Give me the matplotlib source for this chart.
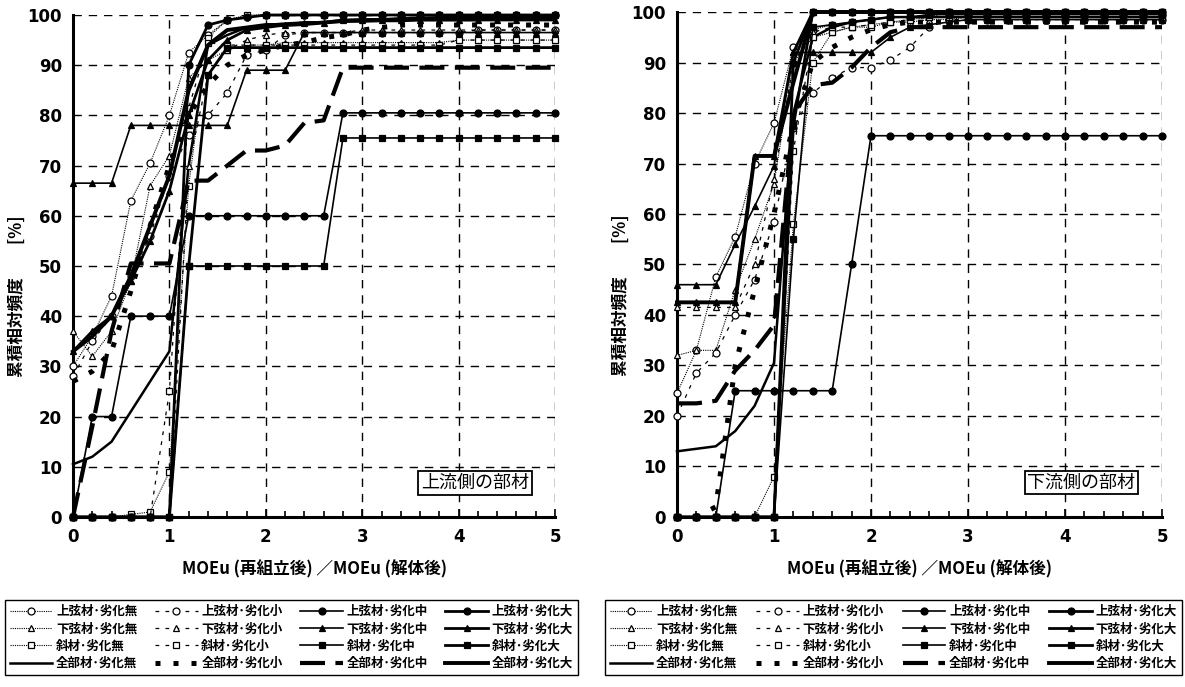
import matplotlib
matplotlib.use("Agg")
import matplotlib.pyplot as plt
from matplotlib.ticker import MultipleLocator

plt.rcParams['font.family'] = ['Noto Sans CJK JP', 'DejaVu Sans']

# x positions (MOEu ratio) shared by every series
x_ratio = [0.0, 0.2, 0.4, 0.6, 0.8, 1.0, 1.2, 1.4, 1.6, 1.8, 2.0, 2.2, 2.4,
           2.6, 2.8, 3.0, 3.2, 3.4, 3.6, 3.8, 4.0, 4.2, 4.4, 4.6, 4.8, 5.0]

members = ['上弦材', '下弦材', '斜材', '全部材']
degrade = ['劣化無', '劣化小', '劣化中', '劣化大']

# ---- upstream members (left panel) ----
us_upper_0 = [30, 36, 44, 63, 70.5, 80, 92.5, 96, 99, 99.5, 100, 100, 100, 100, 100, 100, 100, 100, 100, 100, 100, 100, 100, 100, 100, 100]
us_upper_1 = [28, 35, 40, 48, 56, 68, 76, 80, 84.5, 92, 93, 96, 96.5, 96.5, 96.5, 96.5, 96.5, 96.5, 96.5, 96.5, 96.5, 97, 97, 97, 97, 97]
us_upper_2 = [0, 20, 20, 40, 40, 40, 60, 60, 60, 60, 60, 60, 60, 60, 80.5, 80.5, 80.5, 80.5, 80.5, 80.5, 80.5, 80.5, 80.5, 80.5, 80.5, 80.5]
us_upper_3 = [0, 0, 0, 0, 0, 0, 90, 98, 99, 99.5, 100, 100, 100, 100, 100, 100, 100, 100, 100, 100, 100, 100, 100, 100, 100, 100]
us_lower_0 = [37, 32, 37, 47, 66, 72, 87.5, 91, 93, 94, 94, 94.5, 94.5, 94.5, 94.5, 94.5, 94.5, 94.5, 94.5, 94.5, 95, 95, 95, 95, 95, 95]
us_lower_1 = [0, 0, 0, 0, 0, 0, 70, 88, 93, 95, 96, 96.5, 96.5, 96.5, 96.5, 97, 97, 97, 97, 97, 97, 97, 97, 97, 97, 97]
us_lower_2 = [66.5, 66.5, 66.5, 78, 78, 78, 78, 78, 78, 89, 89, 89, 96.5, 96.5, 96.5, 96.5, 96.5, 96.5, 96.5, 96.5, 96.5, 96.5, 96.5, 96.5, 96.5, 96.5]
us_lower_3 = [33, 37, 40, 47, 55, 65, 80, 91, 95, 97, 97.5, 98, 98.5, 98.5, 99, 99, 99, 99, 99, 99, 99, 99, 99, 99, 99, 99]
us_diag_0 = [0, 0, 0, 0.5, 1, 9, 66, 95.5, 99, 100, 100, 100, 100, 100, 100, 100, 100, 100, 100, 100, 100, 100, 100, 100, 100, 100]
us_diag_1 = [0, 0, 0, 0, 0, 25, 81.5, 94.5, 94, 94, 94, 94, 94, 94, 94, 94, 94, 94, 94, 94, 95, 95, 95, 95, 95, 95]
us_diag_2 = [0, 0, 0, 0, 0, 0, 50, 50, 50, 50, 50, 50, 50, 50, 75.5, 75.5, 75.5, 75.5, 75.5, 75.5, 75.5, 75.5, 75.5, 75.5, 75.5, 75.5]
us_diag_3 = [0, 0, 0, 0, 0, 0, 50, 88, 93.5, 93.5, 93.5, 93.5, 93.5, 93.5, 93.5, 93.5, 93.5, 93.5, 93.5, 93.5, 93.5, 93.5, 93.5, 93.5, 93.5, 93.5]
us_all_0 = [10.5, 12, 15, 21, 27, 33, 70, 94, 96, 97.5, 98, 98.3, 98.5, 98.5, 98.7, 98.7, 98.8, 98.8, 99, 99, 99, 99, 99.2, 99.2, 99.3, 99.3]
us_all_1 = [27, 29, 33, 45, 58, 70, 80, 86, 90, 92, 93, 94, 94.5, 95.5, 96, 97, 97.5, 98, 98, 98, 98, 98, 98, 98, 98, 98]
us_all_2 = [0, 18, 37, 50.5, 50.5, 50.5, 67, 67, 70, 73, 73, 74, 78.5, 79, 89.5, 89.5, 89.5, 89.5, 89.5, 89.5, 89.5, 89.5, 89.5, 89.5, 89.5, 89.5]
us_all_3 = [33, 36, 40, 48, 58, 68, 85, 94, 97, 97.5, 98, 98, 98.2, 98.5, 98.8, 99, 99, 99.2, 99.3, 99.4, 99.5, 99.5, 99.6, 99.6, 99.7, 99.7]

# ---- downstream members (right panel) ----
ds_upper_0 = [24.5, 33, 47.5, 55.5, 70, 78, 93, 96.5, 97.5, 98, 98.5, 99, 99, 99.5, 99.5, 99.5, 99.5, 99.5, 99.5, 99.5, 99.5, 99.5, 99.5, 99.5, 99.5, 99.5]
ds_upper_1 = [20, 28.5, 32.5, 40, 47, 58.5, 77, 84, 87, 89, 89, 90.5, 93, 97, 98.5, 98.5, 98.5, 98.5, 98.5, 98.5, 98.5, 98.5, 98.5, 98.5, 98.5, 98.5]
ds_upper_2 = [0, 0, 0, 25, 25, 25, 25, 25, 25, 50, 75.5, 75.5, 75.5, 75.5, 75.5, 75.5, 75.5, 75.5, 75.5, 75.5, 75.5, 75.5, 75.5, 75.5, 75.5, 75.5]
ds_upper_3 = [0, 0, 0, 0, 0, 0, 90, 100, 100, 100, 100, 100, 100, 100, 100, 100, 100, 100, 100, 100, 100, 100, 100, 100, 100, 100]
ds_lower_0 = [32, 33, 33, 45, 55, 66, 90, 95, 96, 97, 97.5, 98, 98, 98.5, 98.5, 99, 99, 99, 99, 99, 99, 99, 99, 99, 99, 99]
ds_lower_1 = [41.5, 41.5, 41.5, 41.5, 50, 67, 90, 96, 97, 98, 98.5, 99, 99, 99, 99, 99, 99, 99, 99, 99, 99, 99, 99, 99, 99, 99]
ds_lower_2 = [46, 46, 46, 54, 61.5, 69.5, 92, 92, 92, 92, 92, 95, 97, 97.5, 98, 98.5, 98.5, 98.5, 98.5, 98.5, 98.5, 98.5, 98.5, 98.5, 98.5, 98.5]
ds_lower_3 = [42.5, 42.5, 42.5, 42.5, 71.5, 71.5, 92, 100, 100, 100, 100, 100, 100, 100, 100, 100, 100, 100, 100, 100, 100, 100, 100, 100, 100, 100]
ds_diag_0 = [0, 0, 0, 0, 0, 8, 58, 90, 96, 97, 97, 98, 98.5, 99, 100, 100, 100, 100, 100, 100, 100, 100, 100, 100, 100, 100]
ds_diag_1 = [0, 0, 0, 0, 0, 0, 72.5, 95, 97, 97, 97.5, 98, 98.5, 99, 99, 99, 99, 99, 99, 99, 99, 99, 99, 99, 99, 99]
ds_diag_2 = [0, 0, 0, 0, 0, 0, 55, 97, 97.5, 98, 98.5, 99, 99, 99.5, 99.5, 99.5, 99.5, 99.5, 99.5, 99.5, 99.5, 99.5, 99.5, 99.5, 99.5, 99.5]
ds_diag_3 = [0, 0, 0, 0, 0, 0, 77.5, 100, 100, 100, 100, 100, 100, 100, 100, 100, 100, 100, 100, 100, 100, 100, 100, 100, 100, 100]
ds_all_0 = [13, 13.5, 14, 17, 22, 30.5, 80, 95, 97, 98, 98.5, 99, 99, 99, 99, 99, 99, 99, 99, 99, 99, 99, 99, 99, 99, 99]
ds_all_1 = [0, 0, 2, 30, 45, 60, 78, 90, 93, 95, 96.5, 97.5, 98, 98, 98, 98, 98, 98, 98, 98, 98, 98, 98, 98, 98, 98]
ds_all_2 = [22.5, 22.5, 23, 29, 33, 38, 80, 85.5, 86, 89, 93, 96, 97, 97, 97, 97, 97, 97, 97, 97, 97, 97, 97, 97, 97, 97]
ds_all_3 = [42.5, 42.5, 42.5, 42.5, 71.5, 71.5, 86, 100, 100, 100, 100, 100, 100, 100, 100, 100, 100, 100, 100, 100, 100, 100, 100, 100, 100, 100]

upstream = [[us_upper_0, us_upper_1, us_upper_2, us_upper_3],
            [us_lower_0, us_lower_1, us_lower_2, us_lower_3],
            [us_diag_0, us_diag_1, us_diag_2, us_diag_3],
            [us_all_0, us_all_1, us_all_2, us_all_3]]
downstream = [[ds_upper_0, ds_upper_1, ds_upper_2, ds_upper_3],
              [ds_lower_0, ds_lower_1, ds_lower_2, ds_lower_3],
              [ds_diag_0, ds_diag_1, ds_diag_2, ds_diag_3],
              [ds_all_0, ds_all_1, ds_all_2, ds_all_3]]

member_marker = ['o', '^', 's', None]
# line style per degradation level, for the member groups and for "all members"
member_ls = [((0, (1, 1)), 0.8), ((0, (3, 5)), 0.9), ('-', 1.2), ('-', 2.0)]
all_ls = [('-', 1.8), ((0, (1.0, 2.6)), 3.6), ((0, (6, 2.5)), 3.0), ('-', 2.8)]

num_font = {'family': ['Liberation Sans Narrow', 'DejaVu Sans'], 'weight': 'bold', 'size': 12}


def draw_panel(ax, data, tag, leg_box):
    handles, labels = [], []
    for d in range(4):
        for m in range(4):
            if m == 3:
                ls, lw = all_ls[d]
                mk = None
                face = 'black'
            else:
                ls, lw = member_ls[d]
                mk = member_marker[m]
                face = 'white' if d < 2 else 'black'
            line, = ax.plot(x_ratio, data[m][d], color='black', ls=ls, lw=lw,
                            marker=mk, ms=5, mfc=face, mec='black', mew=0.9,
                            clip_on=False, zorder=3 + d)
            handles.append(line)
            labels.append(members[m] + '･' + degrade[d])

    ax.set_xlim(0, 5)
    ax.set_ylim(0, 100)
    ax.xaxis.set_major_locator(MultipleLocator(1))
    ax.xaxis.set_minor_locator(MultipleLocator(0.2))
    ax.yaxis.set_major_locator(MultipleLocator(10))
    ax.grid(True, which='major', color='black', ls=(0, (6, 5)), lw=1.0)
    ax.set_axisbelow(True)
    for s in ['top', 'right']:
        ax.spines[s].set_visible(False)
    for s in ['left', 'bottom']:
        ax.spines[s].set_linewidth(2.2)
    ax.tick_params(axis='x', which='major', direction='in', length=6, width=1.2, pad=8)
    ax.tick_params(axis='x', which='minor', direction='in', length=4, width=1.2)
    ax.tick_params(axis='y', which='major', length=0, pad=8)
    for lab in ax.get_xticklabels() + ax.get_yticklabels():
        lab.set_fontproperties(num_font)

    ax.set_xlabel('MOEu (再組立後) ／MOEu (解体後)', fontsize=12, fontweight='bold', labelpad=10)
    ax.set_ylabel('累積相対頻度　　[%]', fontsize=12, fontweight='bold')
    ax.yaxis.set_label_coords(-0.098, 0.44)

    ax.text(4.17, 6.8, tag, ha='center', va='center', fontsize=13,
            bbox=dict(boxstyle='square,pad=0.15', fc='white', ec='black', lw=1.3), zorder=10)

    leg = ax.legend(handles, labels, ncol=4, loc='upper left', mode='expand',
                    bbox_to_anchor=leg_box, bbox_transform=fig.transFigure,
                    borderaxespad=0, fancybox=False, edgecolor='black', framealpha=1,
                    numpoints=1, handlelength=3.4, handletextpad=0.3, columnspacing=0.4,
                    labelspacing=0.35, prop={'size': 9, 'weight': 'bold'})
    leg.get_frame().set_linewidth(1.0)


fig = plt.figure(figsize=(11.85, 6.87), dpi=100)
ax1 = fig.add_axes([0.0616, 0.2475, 0.4068, 0.7307])
ax2 = fig.add_axes([0.5713, 0.2475, 0.4093, 0.735])

draw_panel(ax1, upstream, '上流側の部材', (0.0042, 0.0131, 0.4835, 0.1135))
draw_panel(ax2, downstream, '下流側の部材', (0.5105, 0.0131, 0.4869, 0.1135))

fig.savefig('out.png', dpi=100)
